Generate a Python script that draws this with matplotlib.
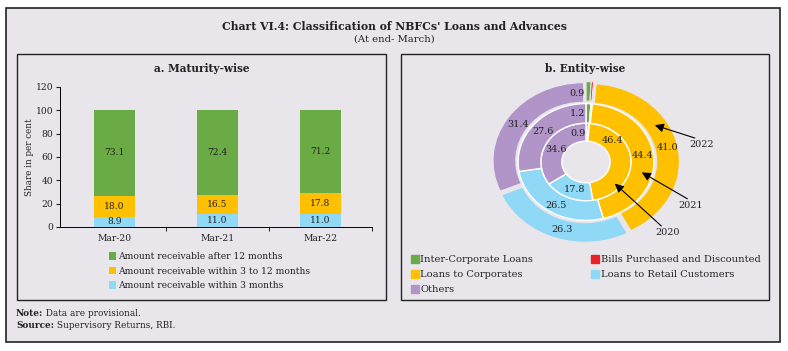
import matplotlib
matplotlib.use("Agg")
import matplotlib.pyplot as plt
from matplotlib.patches import Rectangle, Patch
import numpy as np

plt.rcParams["font.family"] = ["DejaVu Serif"]

# ---- data -------------------------------------------------------------
periods = ["Mar-20", "Mar-21", "Mar-22"]
within_3m = [8.9, 11.0, 11.0]
within_3_12m = [18.0, 16.5, 17.8]
after_12m = [73.1, 72.4, 71.2]

entities = ["Inter-Corporate Loans", "Bills Purchased and Discounted",
            "Loans to Corporates", "Loans to Retail Customers", "Others"]
share_2020 = [0.9, 0.3, 46.4, 17.8, 34.6]
share_2021 = [1.2, 0.3, 44.4, 26.5, 27.6]
share_2022 = [0.9, 0.4, 41.0, 26.3, 31.4]

BG = "#E8E6EB"
INK = "#222222"
GREEN, YELLOW, BLUE, RED, PURPLE = "#6AAB45", "#FFC000", "#8FD8F6", "#E8202A", "#B195C8"
W, H = 788, 351


def fx(px):
    return px / W


def fy(py):
    return 1 - py / H


fig = plt.figure(figsize=(W / 100, H / 100), dpi=100)
fig.patch.set_facecolor("white")

# outer frame and the two panel boxes
fig.patches.append(Rectangle((fx(6), fy(342)), fx(780) - fx(6), fy(8) - fy(342),
                             transform=fig.transFigure, facecolor=BG,
                             edgecolor=INK, lw=1.2, zorder=-5))
for x0, x1 in [(17, 386), (401, 769)]:
    fig.patches.append(Rectangle((fx(x0), fy(300)), fx(x1) - fx(x0), fy(54) - fy(300),
                                 transform=fig.transFigure, facecolor="none",
                                 edgecolor=INK, lw=1.0, zorder=-4))

fig.text(0.5, fy(26), "Chart VI.4: Classification of NBFCs' Loans and Advances",
         ha="center", va="center", fontsize=7.8, fontweight="bold", color=INK)
fig.text(0.5, fy(39), "(At end- March)", ha="center", va="center", fontsize=7.2, color=INK)
fig.text(fx(202), fy(68), "a. Maturity-wise", ha="center", va="center",
         fontsize=7.6, fontweight="bold", color=INK)
fig.text(fx(585), fy(68), "b. Entity-wise", ha="center", va="center",
         fontsize=7.6, fontweight="bold", color=INK)

renderer = fig.canvas.get_renderer()
for py, head, rest in [(313, "Note:", " Data are provisional."),
                       (326, "Source:", " Supervisory Returns, RBI.")]:
    t = fig.text(fx(16), fy(py), head, ha="left", va="center", fontsize=6.4,
                 fontweight="bold", color=INK)
    ext = t.get_window_extent(renderer)
    fig.text(ext.x1 / W, fy(py), rest, ha="left", va="center", fontsize=6.4, color=INK)

# ---- a. Maturity-wise --------------------------------------------------
ax = fig.add_axes([fx(60), fy(227), fx(372) - fx(60), fy(87) - fy(227)])
ax.set_facecolor("none")
x = np.arange(len(periods))
bw = 0.4
b1 = ax.bar(x, within_3m, bw, color=BLUE, label="Amount receivable within 3 months")
b2 = ax.bar(x, within_3_12m, bw, bottom=within_3m, color=YELLOW,
            label="Amount receivable within 3 to 12 months")
base = np.array(within_3m) + np.array(within_3_12m)
b3 = ax.bar(x, after_12m, bw, bottom=base, color=GREEN, label="Amount receivable after 12 months")
for bars, vals, bots in [(b1, within_3m, np.zeros(3)), (b2, within_3_12m, within_3m),
                         (b3, after_12m, base)]:
    for rect, v, b in zip(bars, vals, bots):
        ax.text(rect.get_x() + rect.get_width() / 2, b + v / 2, f"{v:.1f}",
                ha="center", va="center", fontsize=6.6, color=INK)

ax.set_xlim(-0.53, 2.5)
ax.set_ylim(0, 120)
ax.set_yticks(range(0, 121, 20))
ax.set_xticks(x)
ax.set_xticklabels(periods)
ax.set_xticks([0.5, 1.5, 2.5], minor=True)
ax.tick_params(axis="x", which="major", length=0, labelsize=6.6, pad=5, colors=INK)
ax.tick_params(axis="x", which="minor", length=3, direction="out")
ax.tick_params(axis="y", labelsize=6.6, length=3, pad=2, colors=INK)
for s in ["top", "right"]:
    ax.spines[s].set_visible(False)
for s in ["left", "bottom"]:
    ax.spines[s].set_linewidth(0.7)
ax.set_ylabel("Share in per cent", fontsize=6.3, labelpad=1, color=INK)

fig.legend(handles=[b3, b2, b1], loc="upper left", bbox_to_anchor=(fx(109), fy(252)),
           frameon=False, fontsize=6.6, handlelength=0.8, handleheight=0.9,
           handletextpad=0.15, labelspacing=0.62, borderaxespad=0, borderpad=0,
           labelcolor=INK)

# ---- b. Entity-wise ----------------------------------------------------
cx, cy, rx, ry = 586, 162, 93, 80
xr, yr = 1.55, 1.15
ax2 = fig.add_axes([fx(cx - xr * rx), fy(cy + yr * ry), 2 * xr * rx / W, 2 * yr * ry / H])
colors = [GREEN, RED, YELLOW, BLUE, PURPLE]
common = dict(startangle=90, counterclock=False, colors=colors, normalize=True)
ax2.pie(share_2020, radius=0.485, wedgeprops=dict(width=0.225, edgecolor="white", lw=1.0), **common)
ax2.pie(share_2021, radius=0.73, wedgeprops=dict(width=0.245, edgecolor="white", lw=1.0), **common)
ax2.pie(share_2022, radius=0.975, explode=[0.03] * 5,
        wedgeprops=dict(width=0.245, edgecolor=BG, lw=0.8), **common)
ax2.set_aspect("auto")
ax2.set_xlim(-xr, xr)
ax2.set_ylim(-yr, yr)
ax2.axis("off")

# value labels (positions in ring coordinates)
label_pos = {
    "2020": [(-0.09, 0.36), None, (0.29, 0.27), (-0.12, -0.35), (-0.32, 0.15)],
    "2021": [(-0.09, 0.60), None, (0.61, 0.08), (-0.32, -0.54), (-0.46, 0.38)],
    "2022": [(-0.10, 0.85), None, (0.88, 0.18), (-0.26, -0.85), (-0.73, 0.47)],
}
for yr_lbl, vals in [("2020", share_2020), ("2021", share_2021), ("2022", share_2022)]:
    for pos, v in zip(label_pos[yr_lbl], vals):
        if pos is None:
            continue
        ax2.text(pos[0], pos[1], f"{v:.1f}", ha="center", va="center",
                 fontsize=6.9, color=INK)

arrow = dict(arrowstyle="-|>", color="black", lw=0.8, mutation_scale=13, shrinkA=0, shrinkB=0)
for txt, head, tail, tpos in [("2022", (0.74, 0.46), (1.17, 0.30), (1.24, 0.22)),
                              ("2021", (0.60, -0.13), (1.09, -0.46), (1.12, -0.54)),
                              ("2020", (0.31, -0.27), (0.81, -0.80), (0.88, -0.88))]:
    ax2.annotate("", xy=head, xytext=tail, arrowprops=arrow)
    ax2.text(tpos[0], tpos[1], txt, ha="center", va="center", fontsize=6.9, color=INK)

ent_handles = [Patch(color=c, label=l) for c, l in zip(colors, entities)]
order = [0, 2, 4, 1, 3]
fig.legend(handles=[ent_handles[i] for i in order], loc="upper left",
           bbox_to_anchor=(fx(411), fy(255)), ncol=2, frameon=False, fontsize=7.1,
           handlelength=0.8, handleheight=0.9, handletextpad=0.15, labelspacing=0.55,
           columnspacing=5.9, borderaxespad=0, borderpad=0, labelcolor=INK)

fig.savefig("out.png", dpi=100, facecolor=fig.get_facecolor())
